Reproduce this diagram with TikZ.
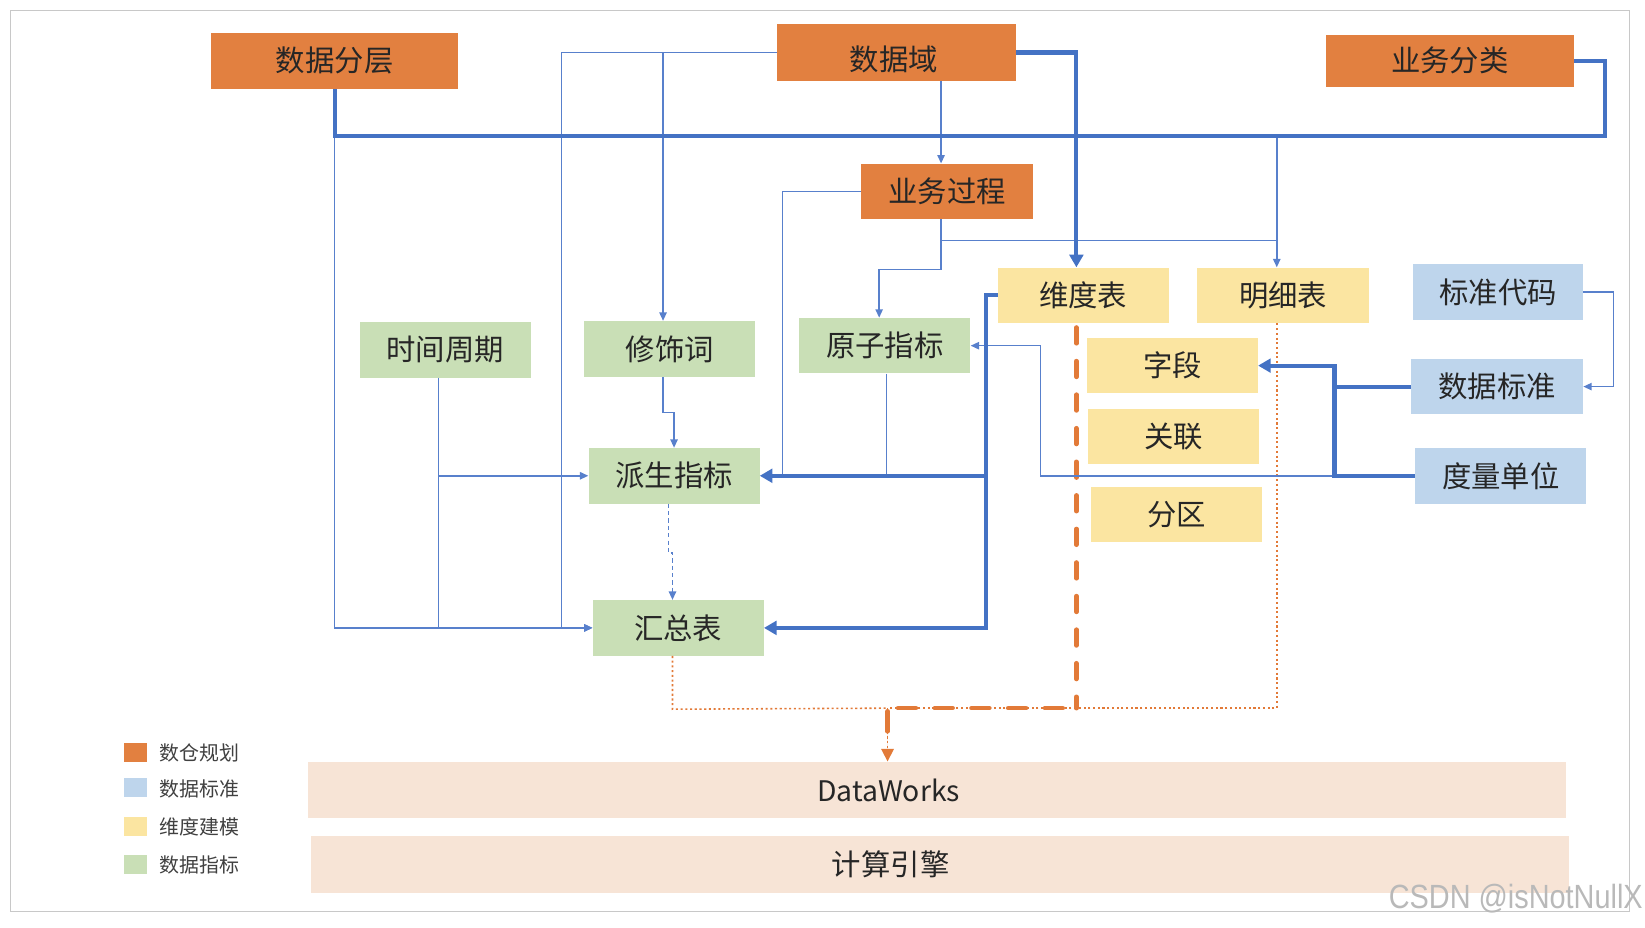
\documentclass[tikz,border=0pt]{standalone}
\usepackage{fontspec}
\setmainfont{Noto Sans CJK SC}
\newfontfamily\wmfont{Liberation Sans}
\usetikzlibrary{arrows.meta}
\definecolor{cOrange}{RGB}{226,128,64}
\definecolor{cGreen}{RGB}{201,223,182}
\definecolor{cYellow}{RGB}{251,229,161}
\definecolor{cBlue}{RGB}{190,213,236}
\definecolor{cBand}{RGB}{247,228,214}
\definecolor{cLine}{RGB}{68,114,196}
\definecolor{cTLine}{RGB}{88,128,204}
\definecolor{cOLine}{RGB}{226,122,56}
\definecolor{txt}{RGB}{38,38,38}
\definecolor{lgtxt}{RGB}{64,64,64}
\definecolor{frm}{RGB}{200,200,200}
\tikzset{
 box/.style={rectangle, inner sep=0pt, text=txt, font=\fontsize{28}{30}\selectfont, minimum height=53pt},
 org/.style={box, fill=cOrange},
 grn/.style={box, fill=cGreen},
 ylw/.style={box, fill=cYellow},
 blu/.style={box, fill=cBlue},
 band/.style={rectangle, inner sep=0pt, fill=cBand, minimum height=54pt},
 lgsq/.style={rectangle, inner sep=0pt, minimum width=22pt, minimum height=18pt},
 lgtx/.style={anchor=west, inner sep=0pt, text=lgtxt, font=\fontsize{19}{21}\selectfont},
 thinln/.style={draw=cTLine, line width=1.4pt},
 thickln/.style={draw=cLine, line width=4pt},
 tipS/.style={-{Triangle[length=8pt,width=7pt]}},
 tipL/.style={-{Triangle[length=12pt,width=13pt]}},
 tipO/.style={-{Triangle[length=12pt,width=12pt]}},
 orgdashV/.style={draw=cOLine, line width=4.4pt, line cap=round, dash pattern=on 15pt off 17pt},
 orgdashH/.style={draw=cOLine, line width=4.4pt, line cap=round, dash pattern=on 17pt off 18pt},
 orgdot/.style={draw=cOLine, line width=1.5pt, dash pattern=on 2pt off 2.5pt},
 bdash/.style={dash pattern=on 4pt off 3pt},
}
\begin{document}
\begin{tikzpicture}[x=1pt,y=-1pt]
\useasboundingbox (0,0) rectangle (1568,884);
\draw[frm, line width=1.2pt] (10,10) rectangle (1553,869);

% orange
\node[org, minimum width=236pt, minimum height=54pt] (fc) at (319,58) {数据分层};
\node[org, minimum width=227pt, minimum height=54pt] (sjy) at (854.5,50) {};
\node[inner sep=0pt, text=txt, font=\fontsize{28}{30}\selectfont] (sjyt) at (852,57) {数据域};
\node[org, minimum width=236pt, minimum height=49pt] (ywfl) at (1382,58) {业务分类};
\node[org, minimum width=164pt] (ywgc) at (903,182.5) {业务过程};
% green
\node[grn, minimum width=163pt] (sjzq) at (424.5,333.5) {时间周期};
\node[grn, minimum width=163pt] (xsc) at (638.5,332.5) {修饰词};
\node[grn, minimum width=163pt] (yzzb) at (843.5,329.5) {原子指标};
\node[grn, minimum width=163pt] (pszb) at (642.5,453.5) {派生指标};
\node[grn, minimum width=163pt] (hzb) at (646.5,598.5) {汇总表};
% yellow
\node[ylw, minimum width=163pt] (wdb) at (1032.5,281.5) {维度表};
\node[ylw, minimum width=164pt] (mxb) at (1223,281.5) {明细表};
\node[ylw, minimum width=163pt] (zd) at (1117.5,348.5) {字段};
\node[ylw, minimum width=163pt] (gl) at (1118.5,416) {关联};
\node[ylw, minimum width=163pt] (fq) at (1121.5,490.5) {分区};
% blue
\node[blu, minimum width=162pt] (bzdm) at (1428,278.5) {标准代码};
\node[blu, minimum width=164pt] (sjbz) at (1427,368.5) {数据标准};
\node[blu, minimum width=163pt] (dldw) at (1430.5,453.5) {度量单位};
% bands
\node[band, minimum width=1199pt] (dw) at (893.5,753) {};
\node[band, minimum width=1200pt] (jsyq) at (896,824) {};
\node[inner sep=0pt, text=txt, font=\fontsize{27}{29}\selectfont] (dwt) at (847,753) {DataWorks};
\node[inner sep=0pt, text=txt, font=\fontsize{28}{30}\selectfont] (jst) at (849,824) {计算引擎};

% legend
\node[lgsq, fill=cOrange] (lg1) at (129,717) {};
\node[lgsq, fill=cBlue] (lg2) at (129,751) {};
\node[lgsq, fill=cYellow] (lg3) at (129,788) {};
\node[lgsq, fill=cGreen] (lg4) at (129,824) {};
\node[lgtx] (lt1) at (152,718) {数仓规划};
\node[lgtx] (lt2) at (152,752) {数据标准};
\node[lgtx] (lt3) at (152,788) {维度建模};
\node[lgtx] (lt4) at (152,824) {数据指标};

% orange dashed flows
\coordinate (oj) at (846,675);
\draw[orgdot] ([xshift=-6pt]mxb.south) -- (1217,675) -- (oj);
\draw[orgdot] ([xshift=-5.5pt]hzb.south) -- (641,676) -- (oj);
\draw[orgdot, tipO, fill=cOLine] (oj) -- ([xshift=-47.5pt]dw.north);
\draw[orgdashV] ([xshift=-6.5pt,yshift=-4pt]wdb.south) -- (1026,675);
\draw[orgdashH] (1013,675) -- (oj);
\draw[draw=cOLine, line width=4.4pt, line cap=round] (846,678) -- (846,697);

% thin blue connectors
\draw[thinln, tipS] (sjy.west) -- (535,50) -- (535,598.5) -- (hzb.west);
\draw[thinln, tipS] (632,50) -- ([xshift=-6.5pt]xsc.north);
\draw[thinln, tipS] (319,130) -- (319,598.5) -- (hzb.west);
\draw[thinln] ([xshift=-6.5pt]sjzq.south) -- (418,598.5);
\draw[thinln, tipS] (418,453.5) -- (pszb.west);
\draw[thinln, tipS] ([xshift=-6.5pt]xsc.south) -- (632,393) -- (642.5,393) -- (pszb.north);
\draw[thinln, bdash, tipS] ([xshift=-5.5pt]pszb.south) -- (637,527) -- (641,527) -- ([xshift=-5.5pt]hzb.north);
\draw[thinln, tipS] ([xshift=42.5pt]sjy.south) -- ([xshift=-6pt]ywgc.north);
\draw[thinln] (ywgc.west) -- (746,182.5) -- (746,453.5);
\draw[thinln] ([xshift=-6pt]ywgc.south) -- (897,229) -- (1217,229);
\draw[thinln, tipS] (897,229) -- (897,257) -- (838,257) -- ([xshift=-5.5pt]yzzb.north);
\draw[thinln, tipS] (1217,130) -- ([xshift=-6pt]mxb.north);
\draw[thinln] ([xshift=1.5pt]yzzb.south) -- (845,453.5);
\draw[thinln, tipS] (dldw.west) -- (992,453.5) -- (992,329.5) -- (yzzb.east);
\draw[thinln, tipS] (bzdm.east) -- (1538,278.5) -- (1538,368.5) -- (sjbz.east);

% thick blue connectors
\draw[thickln] (fc.south) -- (319,130) -- (1530,130) -- (1530,58) -- (ywfl.east);
\draw[thickln, tipL] (sjy.east) -- (1026,50) -- ([xshift=-6.5pt]wdb.north);
\draw[thickln, tipL] (wdb.west) -- (940,281.5) -- (940,598.5) -- (hzb.east);
\draw[thickln, tipL] (940,453.5) -- (pszb.east);
\draw[thickln, tipL] (sjbz.west) -- (1272,368.5) -- (1272,348.5) -- (zd.east);
\draw[thickln] (dldw.west) -- (1272,453.5) -- (1272,368.5);

% watermark
\node[anchor=east, inner sep=0pt, text=gray!55, font=\wmfont\fontsize{32}{34}\selectfont, xscale=0.86] (wm) at (1566,857) {CSDN @isNotNullX};
\end{tikzpicture}
\end{document}
